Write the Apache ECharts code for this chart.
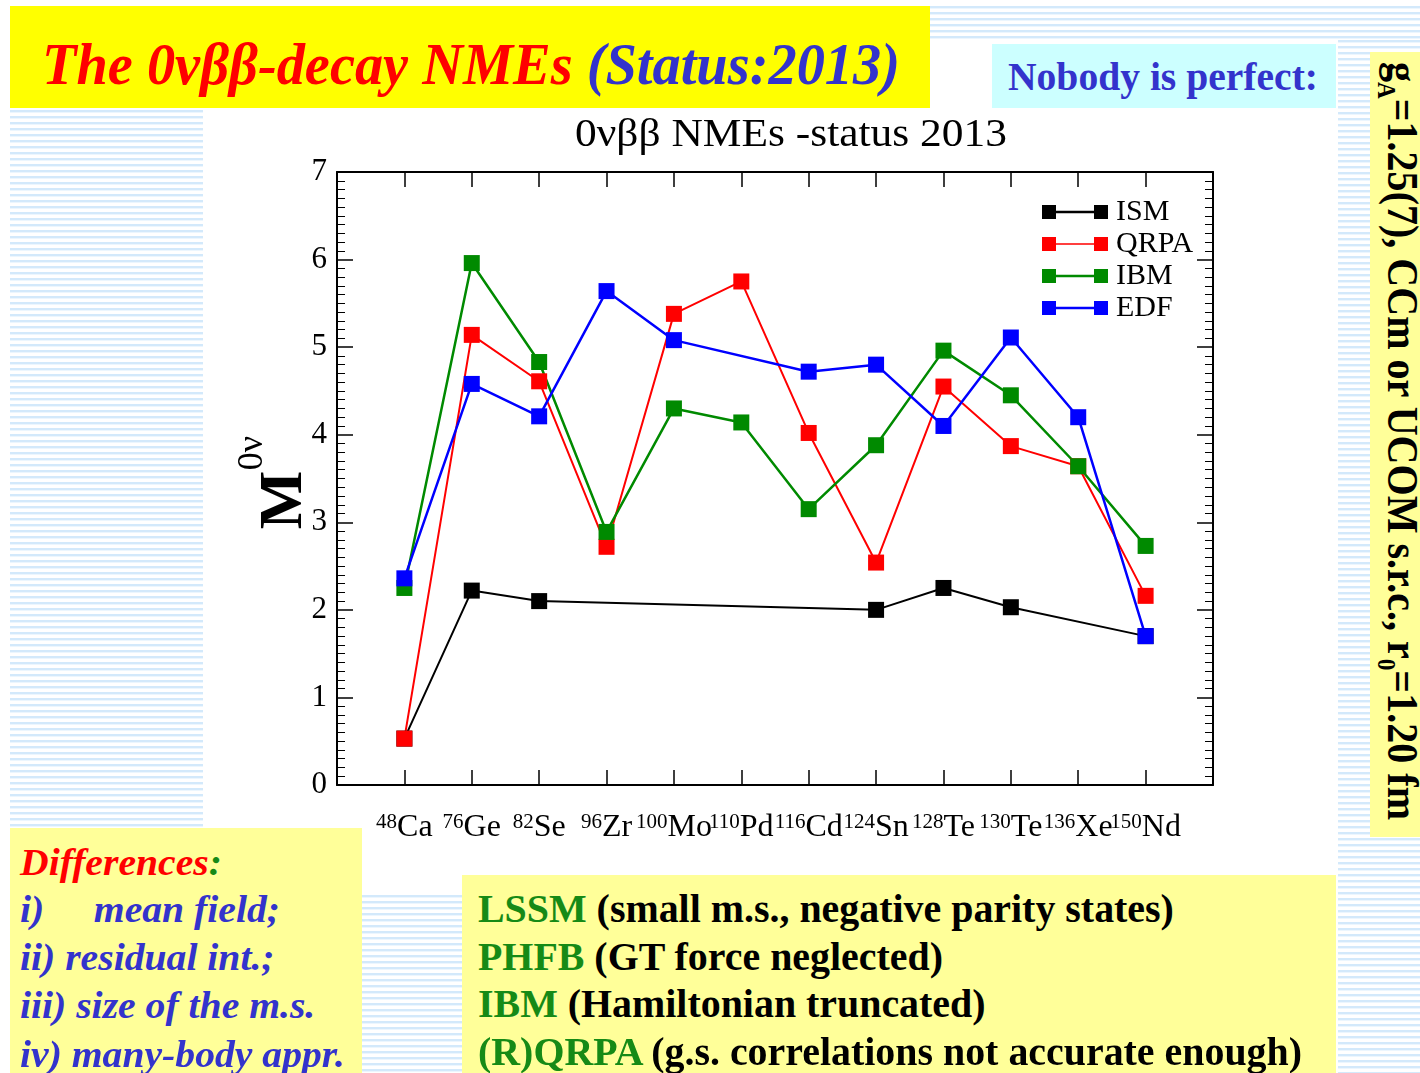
<!DOCTYPE html>
<html>
<head>
<meta charset="utf-8">
<script src="https://cdn.jsdelivr.net/npm/echarts@6/dist/echarts.min.js"></script>
<style>
  html, body { margin: 0; padding: 0; width: 1420px; height: 1073px; overflow: hidden; background: #fff;
    font-family: "Liberation Serif", "Times New Roman", serif; }
  .box { position: absolute; }
  .stripes { position: absolute;
    background: repeating-linear-gradient(to bottom, #d3e9fb 0px, #d3e9fb 2px, #ecf6fe 2px, #ecf6fe 3px, #ffffff 3px, #ffffff 6px); }
  .line { position: absolute; white-space: nowrap; line-height: 1; transform-origin: 0 0; }
  .red { color: #ff0000; }
  .blue { color: #3333cc; }
  .green { color: #168a16; }
  .black { color: #000; }
  #chart { position: absolute; left: 203px; top: 108px; width: 1137px; height: 787px; }
</style>
</head>
<body>
<!-- striped slide background -->
<div class="stripes" style="left:10px;top:110px;width:193px;height:718px"></div>
<div class="stripes" style="left:930px;top:6px;width:490px;height:34px"></div>
<div class="stripes" style="left:1338px;top:40px;width:82px;height:1033px"></div>
<div class="stripes" style="left:362px;top:895px;width:100px;height:178px"></div>

<div id="chart"></div>

<!-- slide title -->
<div class="box" style="left:10px;top:6px;width:920px;height:102px;background:#ffff00"></div>
<div class="line fit" data-w="858" style="left:42px;top:35px;font-size:59px;font-weight:bold;font-style:italic">
  <span class="red">The 0νββ-decay NMEs </span><span class="blue">(Status:2013)</span>
</div>

<div class="box" style="left:992px;top:44px;width:344px;height:64px;background:#ccffff"></div>
<div class="line fit blue" data-w="310" style="left:1008px;top:57px;font-size:39px;font-weight:bold">Nobody is perfect:</div>

<!-- vertical note -->
<div class="box" style="left:1370px;top:52px;width:50px;height:785px;background:#ffff99"></div>
<div id="vnote" class="line black" style="left:1425px;top:62px;font-size:45px;font-weight:bold">g<sub style="font-size:26px">A</sub>=1.25(7), CCm or UCOM s.r.c., r<sub style="font-size:26px">0</sub>=1.20 fm</div>

<!-- differences box -->
<div class="box" style="left:10px;top:828px;width:352px;height:245px;background:#ffff99"></div>
<div class="diff">
  <div class="line red" style="left:20px;top:843px;font-size:38px;font-weight:bold;font-style:italic">Differences<span class="green">:</span></div>
  <div class="line blue" style="left:20px;top:890px;font-size:38px;font-weight:bold;font-style:italic">i)&nbsp;&nbsp;&nbsp;&nbsp;&nbsp;mean field;</div>
  <div class="line blue" style="left:20px;top:938px;font-size:38px;font-weight:bold;font-style:italic">ii) residual int.;</div>
  <div class="line blue" style="left:20px;top:986px;font-size:38px;font-weight:bold;font-style:italic">iii) size of the m.s.</div>
  <div class="line blue" style="left:20px;top:1035px;font-size:38px;font-weight:bold;font-style:italic">iv) many-body appr.</div>
</div>

<!-- shortcomings box -->
<div class="box" style="left:462px;top:875px;width:874px;height:198px;background:#ffff99"></div>
<div class="model">
  <div class="line black" style="left:478px;top:889px;font-size:40px;font-weight:bold"><span class="green">LSSM</span> (small m.s., negative parity states)</div>
  <div class="line black" style="left:478px;top:937px;font-size:40px;font-weight:bold"><span class="green">PHFB</span> (GT force neglected)</div>
  <div class="line black" style="left:478px;top:984px;font-size:40px;font-weight:bold"><span class="green">IBM</span> (Hamiltonian truncated)</div>
  <div class="line black" style="left:478px;top:1032px;font-size:40px;font-weight:bold" id="modelRef"><span class="green">(R)QRPA</span> (g.s. correlations not accurate enough)</div>
</div>

<script>
// Nuclei on the horizontal axis
const massNumbers = ['48', '76', '82', '96', '100', '110', '116', '124', '128', '130', '136', '150'];
const elements = ['Ca', 'Ge', 'Se', 'Zr', 'Mo', 'Pd', 'Cd', 'Sn', 'Te', 'Te', 'Xe', 'Nd'];

// M^0v values per method (null = no calculation for that nucleus)
const ism  = [0.53, 2.22, 2.10, null, null, null, null, 2.00, 2.25, 2.03, null, 1.70];
const qrpa = [0.53, 5.14, 4.61, 2.72, 5.38, 5.75, 4.02, 2.54, 4.55, 3.87, 3.64, 2.16];
const ibm  = [2.25, 5.96, 4.83, 2.89, 4.30, 4.14, 3.15, 3.88, 4.96, 4.45, 3.64, 2.73];
const edf  = [2.36, 4.58, 4.21, 5.64, 5.08, null, 4.72, 4.80, 4.10, 5.11, 4.20, 1.70];

const yTicks = [0, 1, 2, 3, 4, 5, 6, 7];

// horizontal squeeze of the slide texts to their box widths
function fitTo(el, target) {
  el.style.display = 'inline-block';
  const w = el.getBoundingClientRect().width;
  return target / w;
}
document.querySelectorAll('.fit').forEach(el => {
  const s = fitTo(el, +el.dataset.w);
  el.style.transform = 'scaleX(' + s + ')';
});
{
  const s = fitTo(document.querySelector('.diff .line:last-child'), 325);
  document.querySelectorAll('.diff .line').forEach(el => el.style.transform = 'scaleX(' + s + ')');
  const s2 = fitTo(document.getElementById('modelRef'), 824);
  document.querySelectorAll('.model .line').forEach(el => el.style.transform = 'scaleX(' + s2 + ')');
  const v = document.getElementById('vnote');
  const s3 = fitTo(v, 758);
  v.style.transform = 'rotate(90deg) scaleX(' + s3 + ')';
}

const FONT = '"Liberation Serif", "Times New Roman", serif';
const toPoints = vals => vals.map((v, i) => (v == null ? null : [i + 1, v])).filter(p => p);

function legendIcon(thick) {
  const a = 7 - thick / 2, b = 7 + thick / 2;
  return 'path://M0 0H14V14H0Z M14 ' + a + 'H52V' + b + 'H14Z M52 0H66V14H52Z';
}

const axisLine = { show: true, onZero: false, lineStyle: { color: '#000', width: 2 } };

const xAxisBase = {
  type: 'value', min: 0, max: 13, interval: 1,
  axisLine: axisLine,
  axisTick: { show: true, inside: true, length: 15, lineStyle: { color: '#000', width: 1.5 } },
  splitLine: { show: false }
};
const yAxisBase = {
  type: 'value', min: yTicks[0], max: yTicks[yTicks.length - 1], interval: 1,
  axisLine: axisLine,
  axisTick: { show: true, inside: true, length: 16, lineStyle: { color: '#000', width: 1.5 } },
  minorTick: { show: true, splitNumber: 10, length: 8, lineStyle: { color: '#000', width: 1 } },
  splitLine: { show: false },
  minorSplitLine: { show: false }
};

function lineSeries(name, vals, color, width) {
  return {
    name: name, type: 'line', data: toPoints(vals),
    symbol: 'rect', symbolSize: 16,
    itemStyle: { color: color },
    lineStyle: { color: color, width: width },
    emphasis: { disabled: true },
    animation: false
  };
}

const chart = echarts.init(document.getElementById('chart'));
chart.setOption({
  animation: false,
  grid: { left: 134, top: 64, width: 876, height: 613 },
  legend: {
    orient: 'vertical', left: 834, top: 84,
    itemWidth: 66, itemHeight: 14, itemGap: 2,
    itemStyle: { borderWidth: 0 },
    textStyle: { fontFamily: FONT, fontSize: 30, color: '#000', padding: [0, 0, 0, 3] },
    data: [
      { name: 'ISM', icon: legendIcon(2.4) },
      { name: 'QRPA', icon: legendIcon(1.6) },
      { name: 'IBM', icon: legendIcon(2.4) },
      { name: 'EDF', icon: legendIcon(2.4) }
    ]
  },
  xAxis: [
    Object.assign({}, xAxisBase, {
      position: 'bottom',
      axisLabel: {
        margin: 27,
        formatter: v => (v >= 1 && v <= 12 ? '{sup|' + massNumbers[v - 1] + '}{el|' + elements[v - 1] + '}' : ''),
        rich: {
          sup: { fontFamily: FONT, fontSize: 21, color: '#000', verticalAlign: 'top', lineHeight: 21 },
          el: { fontFamily: FONT, fontSize: 32, color: '#000', verticalAlign: 'bottom', lineHeight: 32, padding: [12, 0, 0, 0] }
        }
      }
    }),
    Object.assign({}, xAxisBase, { position: 'top', axisLabel: { show: false } })
  ],
  yAxis: [
    Object.assign({}, yAxisBase, {
      position: 'left',
      axisLabel: { margin: 10, fontFamily: FONT, fontSize: 31, color: '#000' }
    }),
    Object.assign({}, yAxisBase, { position: 'right', axisLabel: { show: false } })
  ],
  graphic: [
    // chart heading
    { type: 'text', x: 588, y: 27, scaleX: 1.06,
      style: { text: '0νββ NMEs -status 2013', font: '41px ' + FONT, fill: '#000', align: 'center', verticalAlign: 'middle' } },
    // vertical axis name M^0v
    { type: 'text', x: 82, y: 392, rotation: Math.PI / 2,
      style: { text: 'M', font: 'bold 62px ' + FONT, fill: '#000', align: 'center', verticalAlign: 'middle' } },
    { type: 'text', x: 50, y: 345, rotation: Math.PI / 2,
      style: { text: '0ν', font: '36px ' + FONT, fill: '#000', align: 'center', verticalAlign: 'middle' } }
  ],
  series: [
    lineSeries('ISM', ism, '#000000', 2),
    lineSeries('QRPA', qrpa, '#ff0000', 2),
    lineSeries('IBM', ibm, '#008a00', 2.5),
    lineSeries('EDF', edf, '#0000ff', 2.5)
  ]
});
</script>
</body>
</html>
